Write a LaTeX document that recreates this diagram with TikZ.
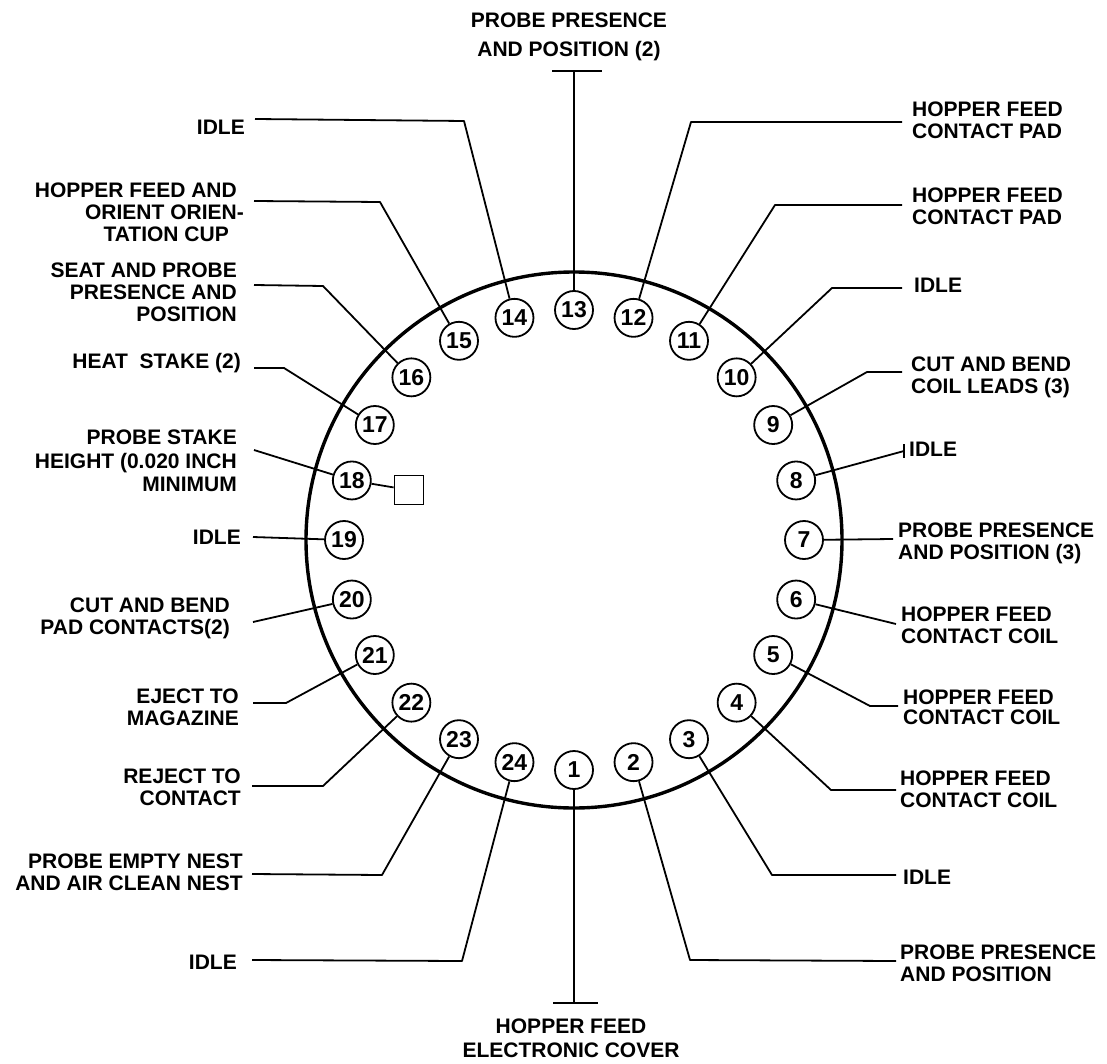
\documentclass[tikz,border=0pt]{standalone}
\usepackage{fontspec}
\setmainfont{Liberation Sans}
\begin{document}
\begin{tikzpicture}[x=1pt,y=-1pt,
  lbl/.style={font=\bfseries\fontsize{21}{22}\selectfont, inner sep=0pt},
  lleft/.style={lbl, anchor=north east, align=right},
  lright/.style={lbl, anchor=north west, align=left},
  num/.style={circle, draw, line width=1.8pt, minimum size=38pt, inner sep=0pt, font=\bfseries\fontsize{23}{23}\selectfont},
  lead/.style={line width=1.8pt, line join=round}]
\useasboundingbox (0,0) rectangle (1107,1064);

% main ring
\node[circle, draw, line width=3.4pt, minimum size=536pt, inner sep=0pt] (ring) at (574,540) {};

% station circles
\foreach \n in {1,...,24} {
  \pgfmathsetmacro\ang{270+(\n-1)*15}
  \node[num] (c\n) at ({574+230*cos(\ang)},{540-230*sin(\ang)}) {\n};
}

% square next to 18
\node[draw, line width=1.8pt, minimum size=29pt, inner sep=0pt] (sq) at (409,490) {};
\draw[lead] (c18) -- (sq);

% top label
\node[lbl, font=\bfseries\fontsize{21}{29}\selectfont, anchor=north, align=center] (T) at (569,13) {PROBE PRESENCE\\AND POSITION (2)};
\coordinate (tl) at (552,71); \coordinate (tr) at (602,71); \coordinate (tm) at (574,71);
\draw[lead] (tl) -- (tr);
\draw[lead] (tm) -- (c13);

% bottom label
\node[lbl, font=\bfseries\fontsize{21}{24}\selectfont, anchor=north, align=center] (B) at (571,1019) {HOPPER FEED\\ELECTRONIC COVER};
\coordinate (bl) at (553,1003); \coordinate (br) at (598,1003); \coordinate (bm) at (574,1003);
\draw[lead] (bl) -- (br);
\draw[lead] (c1) -- (bm);

% left labels
\node[lleft] (L14) at (245,120) {IDLE};
\coordinate (a14) at (255,119); \coordinate (k14) at (464,121);
\draw[lead] (a14) -- (k14) -- (c14);

\node[lleft] (L15) at (237,183) {HOPPER FEED AND\\ORIENT ORIEN\rlap{-}\\TATION CUP\kern8pt};
\coordinate (a15) at (254,201); \coordinate (k15) at (380,202);
\draw[lead] (a15) -- (k15) -- (c15);

\node[lleft] (L16) at (237,263) {SEAT AND PROBE\\PRESENCE AND\\POSITION};
\coordinate (a16) at (254,285); \coordinate (k16) at (323,286);
\draw[lead] (a16) -- (k16) -- (c16);

\node[lleft] (L17) at (241,353) {HEAT~~STAKE (2)};
\coordinate (a17) at (254,368); \coordinate (k17) at (284,368);
\draw[lead] (a17) -- (k17) -- (c17);

\node[lleft, font=\bfseries\fontsize{21}{23.5}\selectfont] (L18) at (237,430) {PROBE STAKE\\HEIGHT (0.020 INCH\\MINIMUM};
\coordinate (a18) at (254,450);
\draw[lead] (a18) -- (c18);

\node[lleft] (L19) at (241,530) {IDLE};
\coordinate (a19) at (253,537);
\draw[lead] (a19) -- (c19);

\node[lleft] (L20) at (230,598) {CUT AND BEND\\PAD CONTACTS(2)};
\coordinate (a20) at (253,622);
\draw[lead] (a20) -- (c20);

\node[lleft] (L21) at (239,689) {EJECT TO\\MAGAZINE};
\coordinate (a21) at (253,703); \coordinate (k21) at (286,703);
\draw[lead] (a21) -- (k21) -- (c21);

\node[lleft] (L22) at (241,769) {REJECT TO\\CONTACT};
\coordinate (a22) at (252,786); \coordinate (k22) at (323,786);
\draw[lead] (a22) -- (k22) -- (c22);

\node[lleft] (L23) at (243,854) {PROBE EMPTY NEST\\AND AIR CLEAN NEST};
\coordinate (a23) at (252,874); \coordinate (k23) at (382,875);
\draw[lead] (a23) -- (k23) -- (c23);

\node[lleft] (L24) at (237,955) {IDLE};
\coordinate (a24) at (252,960); \coordinate (k24) at (462,961);
\draw[lead] (a24) -- (k24) -- (c24);

% right labels
\node[lright] (R12) at (912,102) {HOPPER FEED\\CONTACT PAD};
\coordinate (a12) at (902,122); \coordinate (k12) at (691,122);
\draw[lead] (a12) -- (k12) -- (c12);

\node[lright] (R11) at (912,188) {HOPPER FEED\\CONTACT PAD};
\coordinate (a11) at (902,205); \coordinate (k11) at (775,205);
\draw[lead] (a11) -- (k11) -- (c11);

\node[lright] (R10) at (914,278) {IDLE};
\coordinate (a10) at (902,288); \coordinate (k10) at (832,288);
\draw[lead] (a10) -- (k10) -- (c10);

\node[lright] (R9) at (911,357) {CUT AND BEND\\COIL LEADS (3)};
\coordinate (a9) at (902,372); \coordinate (k9) at (867,372);
\draw[lead] (a9) -- (k9) -- (c9);

\node[lright] (R8) at (909,442) {IDLE};
\coordinate (a8) at (904,451); \coordinate (t8a) at (904,444); \coordinate (t8b) at (904,458);
\draw[lead] (c8) -- (a8);
\draw[lead] (t8a) -- (t8b);

\node[lright] (R7) at (898,523) {PROBE PRESENCE\\AND POSITION (3)};
\coordinate (a7) at (893,539);
\draw[lead] (c7) -- (a7);

\node[lright] (R6) at (901,607) {HOPPER FEED\\CONTACT COIL};
\coordinate (a6) at (896,624);
\draw[lead] (c6) -- (a6);

\node[lright, font=\bfseries\fontsize{21}{20}\selectfont] (R5) at (903,690) {HOPPER FEED\\CONTACT COIL};
\coordinate (a5) at (898,706); \coordinate (k5) at (870,706);
\draw[lead] (c5) -- (k5) -- (a5);

\node[lright] (R4) at (900,771) {HOPPER FEED\\CONTACT COIL};
\coordinate (a4) at (896,790); \coordinate (k4) at (831,790);
\draw[lead] (c4) -- (k4) -- (a4);

\node[lright] (R3) at (903,870) {IDLE};
\coordinate (a3) at (896,875); \coordinate (k3) at (772,875);
\draw[lead] (c3) -- (k3) -- (a3);

\node[lright] (R2) at (900,945) {PROBE PRESENCE\\AND POSITION};
\coordinate (a2) at (896,961); \coordinate (k2) at (690,960);
\draw[lead] (c2) -- (k2) -- (a2);
\end{tikzpicture}
\end{document}
